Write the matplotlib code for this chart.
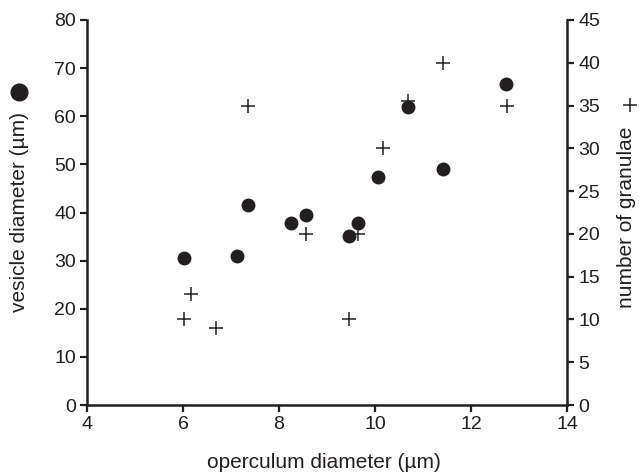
import numpy as np
import matplotlib
matplotlib.use("Agg")
import matplotlib.pyplot as plt

plt.rcParams['font.family'] = ['Liberation Sans', 'DejaVu Sans']

# вскрытые везикулы: диаметр крышечки и диаметр везикулы
op_ves = [6.03, 7.13, 7.36, 8.26, 8.56, 9.45, 9.64, 10.06, 10.68, 11.41, 12.73]
vesicle = [30.6, 31.0, 41.6, 37.9, 39.5, 35.1, 37.9, 47.4, 62.0, 49.0, 66.8]

# число гранул
op_gran = [6.03, 6.17, 6.68, 7.36, 8.56, 9.45, 9.65, 10.17, 10.68, 11.41, 12.74]
granulae = [10, 13, 9, 35, 20, 10, 20, 30, 35.5, 40, 35]

ink = '#231f20'

fig = plt.figure(figsize=(6.39, 4.72), dpi=100)
ax = fig.add_axes([87/639, 1-405/472, 480/639, 385/472])
ax2 = ax.twinx()

ax2.plot(op_gran, granulae, '+', color=ink, ms=10.5, mew=1.1, clip_on=False)
ax.plot(op_ves, vesicle, 'o', color=ink, ms=9, clip_on=False)
ax.set_zorder(ax2.get_zorder() + 1)
ax.patch.set_visible(False)

ax.set_xlim(4, 14)
ax.set_ylim(0, 80)
ax2.set_ylim(0, 45)
ax.set_xticks([4, 6, 8, 10, 12, 14])
ax.set_yticks(np.arange(0, 81, 10))
ax2.set_yticks(np.arange(0, 46, 5))

for a in (ax, ax2):
    a.spines['top'].set_visible(False)
    for s in a.spines.values():
        s.set_linewidth(1.8)
        s.set_color(ink)
    a.tick_params(direction='out', length=5, width=1.6, labelsize=14,
                  colors=ink, pad=3)
ax.spines['right'].set_visible(False)
ax2.spines['left'].set_visible(False)
ax2.spines['bottom'].set_visible(False)

# подписи осей ставим вручную, по месту
fig.text(324/639, 1-468/472, 'operculum diameter (µm)', fontsize=15,
         color=ink, ha='center', va='baseline')
fig.text(20/639, 1-212/472, 'vesicle diameter (µm)', fontsize=15,
         color=ink, rotation=90, ha='center', va='center')
fig.text(627/639, 1-217/472, 'number of granulae', fontsize=15,
         color=ink, rotation=90, ha='center', va='center')

# значки-легенды у подписей осей
fig.lines.append(plt.Line2D([19/639], [1-92/472], marker='o', ms=12,
                            color=ink, transform=fig.transFigure))
fig.lines.append(plt.Line2D([630/639], [1-105/472], marker='+', ms=9.5,
                            mew=1.1, color=ink, transform=fig.transFigure))

fig.savefig('out.png', dpi=100)
